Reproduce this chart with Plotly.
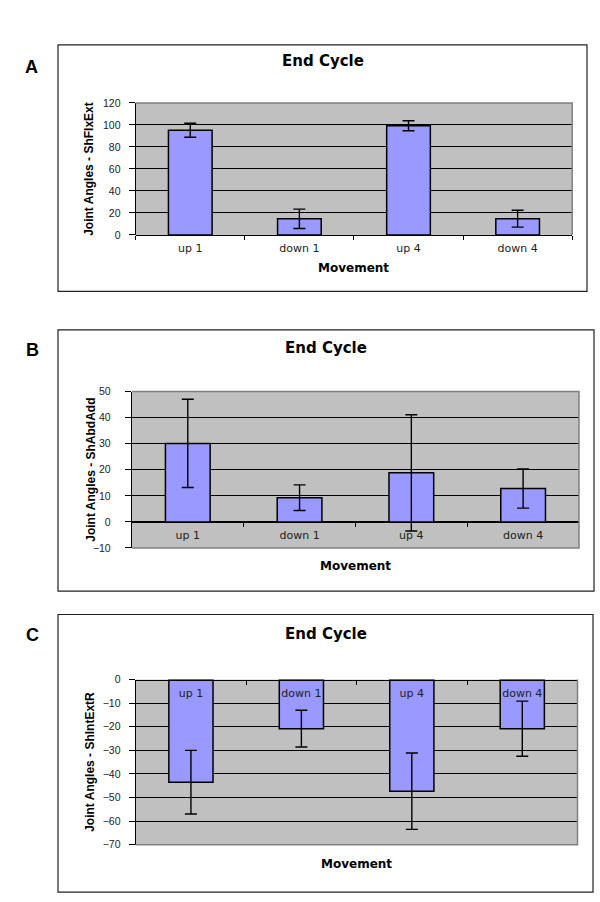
import plotly.graph_objects as go

# ---------------- data ----------------
categories = ["up 1", "down 1", "up 4", "down 4"]

shflxext_mean = [95.2, 14.7, 99.3, 14.8]
shflxext_err = [6.4, 8.8, 4.6, 7.7]

shabdadd_mean = [30.1, 9.3, 18.8, 12.8]
shabdadd_err = [16.9, 4.9, 22.3, 7.5]

shintextr_mean = [-43.5, -20.8, -47.3, -20.8]
shintextr_err = [13.5, 7.8, 16.2, 11.7]

panel_letters = ["A", "B", "C"]
chart_title = "End Cycle"
x_title = "Movement"
y_titles = ["Joint Angles - ShFlxExt", "Joint Angles - ShAbdAdd", "Joint Angles - ShIntExtR"]
y_ranges = [[0, 120], [-10, 50], [-70, 0]]
y_dticks = [20, 10, 10]

# ---------------- layout geometry (pixels) ----------------
W, H = 600, 902
BAR_COLOR = "#9999FF"
PLOT_BG = "#C0C0C0"

# plot-area rectangles: (left, top, right, bottom)
plot_px = [(135.7, 98.3, 572.2, 232.0),
           (131.9, 390.7, 579.0, 549.3),
           (135.7, 682.7, 577.5, 850.0)]
# chart boxes
box_px = [(58, 39.3, 587, 289.3),
          (58, 328.3, 594, 593.0),
          (58, 616.7, 593, 898.0)]
letter_px = [(31.5, 62), (32.5, 349), (32.5, 637)]
title_y = [56, 347, 636]
movement_y = [265.3, 567.7, 869.3]
ytitle_px = [(89, 165), (91, 470), (90, 766)]
ylab_standoff = [6, 12, 6]

def px_x(x):
    return x / W

def px_y(y):
    return 1 - y / H

series = [(shflxext_mean, shflxext_err),
          (shabdadd_mean, shabdadd_err),
          (shintextr_mean, shintextr_err)]

fig = go.Figure()
layout = dict(
    width=W, height=H,
    margin=dict(l=0, r=0, t=0, b=0),
    paper_bgcolor="white",
    plot_bgcolor=PLOT_BG,
    showlegend=False,
    bargap=0.6,
)
shapes = []
annotations = []

tick_font = dict(family="DejaVu Sans", size=11, color="#222222")
ytick_font = dict(family="Liberation Sans", size=10.5, color="#222222")

for i, (vals, errs) in enumerate(series):
    sfx = "" if i == 0 else str(i + 1)
    xa, ya = "x" + sfx, "y" + sfx
    fig.add_trace(go.Bar(
        x=categories, y=vals,
        width=0.4,
        marker=dict(color=BAR_COLOR, line=dict(color="black", width=1.5)),
        error_y=dict(type="data", array=errs, visible=True,
                     color="black", thickness=1.4, width=6),
        xaxis=xa, yaxis=ya,
        hoverinfo="x+y",
    ))
    l, t, r, b = plot_px[i]
    xdom = [px_x(l), px_x(r)]
    ydom = [px_y(b), px_y(t)]
    yr = y_ranges[i]
    # where zero sits on paper (computed from the axis range)
    zero_pos = ydom[0] + (0 - yr[0]) / (yr[1] - yr[0]) * (ydom[1] - ydom[0])

    layout["xaxis" + sfx] = dict(
        domain=xdom, type="category",
        anchor="free", position=zero_pos, side="bottom",
        showline=True, linecolor="black", linewidth=1.2,
        showgrid=False, zeroline=False,
        ticks="outside", tickson="boundaries", ticklen=4, tickcolor="black",
        tickfont=tick_font, ticklabelstandoff=3,
        fixedrange=True,
    )
    layout["yaxis" + sfx] = dict(
        domain=ydom, anchor=xa, range=yr, dtick=y_dticks[i],
        showline=True, linecolor="black", linewidth=1.2,
        showgrid=True, gridcolor="black", gridwidth=1,
        zeroline=False,
        ticks="outside", ticklen=6, tickcolor="black",
        tickfont=ytick_font, ticklabelstandoff=ylab_standoff[i],
        fixedrange=True,
    )

    # plot-area grey border (sides that are not axis lines)
    if i == 0:
        path = "M 0,1 L 1,1 L 1,0"
    elif i == 1:
        path = "M 0,1 L 1,1 L 1,0 L 0,0"
    else:
        path = "M 1,1 L 1,0 L 0,0"
    shapes.append(dict(type="path", path=path,
                       xref=xa + " domain", yref=ya + " domain",
                       line=dict(color="#808080", width=1.5), layer="above"))

    # chart box
    bl, bt, br, bb = box_px[i]
    shapes.append(dict(type="rect", xref="paper", yref="paper",
                       x0=px_x(bl), x1=px_x(br), y0=px_y(bb), y1=px_y(bt),
                       line=dict(color="#222222", width=1.2), fillcolor="rgba(0,0,0,0)",
                       layer="below"))

    # panel letter
    lx, ly = letter_px[i]
    annotations.append(dict(text=panel_letters[i], xref="paper", yref="paper",
                            x=px_x(lx), y=px_y(ly), xanchor="center", yanchor="middle",
                            showarrow=False,
                            font=dict(family="Liberation Sans", size=18, color="black", weight="bold")))
    # chart title
    annotations.append(dict(text="<b>" + chart_title + "</b>", xref="paper", yref="paper",
                            x=px_x((bl + br) / 2), y=px_y(title_y[i]),
                            xanchor="center", yanchor="middle", showarrow=False,
                            font=dict(family="DejaVu Sans", size=15, color="black")))
    # x title
    annotations.append(dict(text="<b>" + x_title + "</b>", xref="paper", yref="paper",
                            x=px_x((l + r) / 2), y=px_y(movement_y[i]),
                            xanchor="center", yanchor="middle", showarrow=False,
                            font=dict(family="DejaVu Sans", size=12, color="black")))
    # y title
    tx, ty = ytitle_px[i]
    annotations.append(dict(text="<b>" + y_titles[i] + "</b>", xref="paper", yref="paper",
                            x=px_x(tx), y=px_y(ty), xanchor="center", yanchor="middle",
                            textangle=-90, showarrow=False,
                            font=dict(family="Liberation Sans", size=12, color="black")))

layout["shapes"] = shapes
layout["annotations"] = annotations
fig.update_layout(**layout)

fig.write_html(
    "out.html",
    config={"displayModeBar": False},
    post_script="document.body.style.margin='0px';document.body.style.overflow='hidden';",
)
